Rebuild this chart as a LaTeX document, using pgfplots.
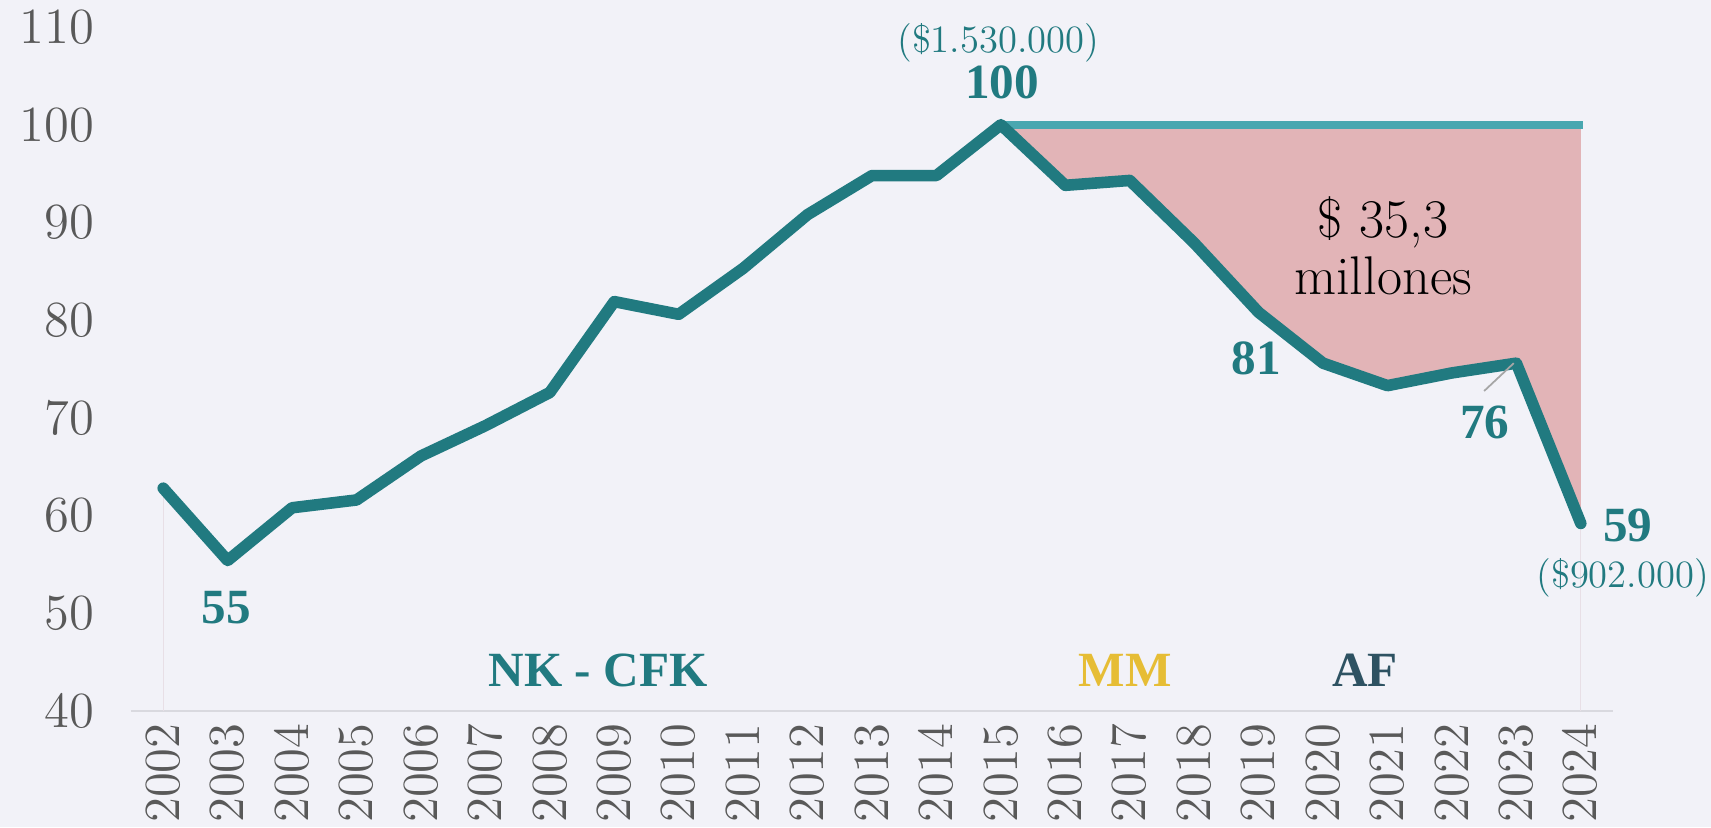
\documentclass[border=0pt]{standalone}
\usepackage{fontspec}
\usepackage{pgfplots}
\pgfplotsset{compat=1.18}
\usetikzlibrary{calc,backgrounds}
\newfontfamily\lbf{Liberation Serif}
\definecolor{bgcol}{HTML}{F2F2F8}
\definecolor{tealline}{HTML}{217A80}
\definecolor{reftop}{HTML}{49A7B0}
\definecolor{gapfill}{HTML}{E2B4B7}
\definecolor{mmgold}{HTML}{E6BD35}
\definecolor{afslate}{HTML}{2E5262}
\definecolor{tickgray}{HTML}{595959}
\definecolor{axisgray}{HTML}{D9D9DF}
\definecolor{faint}{HTML}{E8DFE6}

\begin{document}
\begin{tikzpicture}
  \begin{axis}[
      name=ax, at={(0,0)}, anchor=south west,
      scale only axis, width=148.2mm, height=68.4mm,
      xmin=2001.5, xmax=2024.5, ymin=40, ymax=110,
      xtick={2002,...,2024}, ytick={40,50,...,110},
      axis x line*=bottom, axis y line*=left,
      x axis line style={draw=axisgray, line width=0.7pt},
      y axis line style={draw=none},
      major tick length=0pt,
      /pgf/number format/1000 sep={},
      x tick label style={rotate=90, anchor=east, text=tickgray,
        font=\fontsize{14}{16}\selectfont},
      y tick label style={text=tickgray, xshift=-7pt,
        font=\fontsize{14.5}{16}\selectfont},
      clip=false]
    % drop lines
    \addplot[draw=faint, line width=0.4pt] coordinates {(2002,40)(2002,62.8)};
    \addplot[draw=faint, line width=0.4pt] coordinates {(2024,40)(2024,59.2)};
    % gap against 2015 level
    \addplot[fill=gapfill, draw=none] coordinates {
      (2015,100)(2016,93.8)(2017,94.3)(2018,87.9)(2019,80.8)(2020,75.6)
      (2021,73.3)(2022,74.6)(2023,75.6)(2024,59.2)(2024,100)} -- cycle;
    \addplot[draw=reftop, line width=2.3pt] coordinates {(2015,100)(2024.03,100)};
    % index series
    \addplot[draw=tealline, line width=3.3pt, line join=round, line cap=round] coordinates {
      (2002,62.8)(2003,55.4)(2004,60.8)(2005,61.6)(2006,66.1)(2007,69.2)
      (2008,72.6)(2009,81.9)(2010,80.6)(2011,85.3)(2012,90.8)(2013,94.8)
      (2014,94.8)(2015,100)(2016,93.8)(2017,94.3)(2018,87.9)(2019,80.8)
      (2020,75.6)(2021,73.3)(2022,74.6)(2023,75.6)(2024,59.2)};
    % labels
    \node[text=tealline, font=\fontsize{11}{12}\selectfont] at (axis cs:2014.96,108.4) {(\$1.530.000)};
    \node[text=tealline, font=\lbf\bfseries\fontsize{14}{16}\selectfont] at (axis cs:2015.02,104.3) {100};
    \node[text=tealline, font=\lbf\bfseries\fontsize{14}{16}\selectfont] at (axis cs:2002.98,50.6) {55};
    \node[text=tealline, font=\lbf\bfseries\fontsize{14}{16}\selectfont] at (axis cs:2018.96,76.1) {81};
    \draw[draw=black!35, line width=0.5pt] (axis cs:2022.5,72.75) -- (axis cs:2022.96,75.6);
    \node[text=tealline, font=\lbf\bfseries\fontsize{14}{16}\selectfont] at (axis cs:2022.51,69.5) {76};
    \node[text=tealline, font=\lbf\bfseries\fontsize{14}{16}\selectfont] at (axis cs:2024.73,59.0) {59};
    \node[text=tealline, font=\fontsize{11}{12}\selectfont] at (axis cs:2024.65,53.6) {(\$902.000)};
    \node[align=center, font=\fontsize{15.5}{16.4}\selectfont] at (axis cs:2020.93,87.6) {\$ 35,3\\millones};
    \node[text=tealline, font=\lbf\bfseries\fontsize{14}{16}\selectfont] at (axis cs:2008.75,44.2) {NK - CFK};
    \node[text=mmgold, font=\lbf\bfseries\fontsize{14}{16}\selectfont] at (axis cs:2016.93,44.2) {MM};
    \node[text=afslate, font=\lbf\bfseries\fontsize{14}{16}\selectfont] at (axis cs:2020.65,44.2) {AF};
  \end{axis}
  \pgfresetboundingbox
  \begin{scope}[on background layer]
    \fill[bgcol] ($(ax.south west)+(-13.1mm,-11.6mm)$) rectangle ($(ax.south west)+(158mm,71.1mm)$);
  \end{scope}
  \useasboundingbox ($(ax.south west)+(-13.1mm,-11.6mm)$) rectangle ($(ax.south west)+(158mm,71.1mm)$);
\end{tikzpicture}
\end{document}
